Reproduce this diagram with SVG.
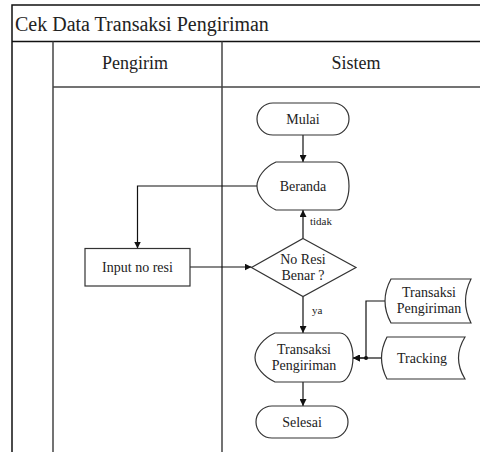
<svg xmlns="http://www.w3.org/2000/svg" width="480" height="452" viewBox="0 0 480 452">
<style>
  .frame{fill:none;stroke:#111;stroke-width:1.5}
  .lane{fill:none;stroke:#444;stroke-width:1.5}
  .node{fill:#fff;stroke:#333;stroke-width:1.2}
  .edge{fill:none;stroke:#111;stroke-width:1.2}
  .t{font-size:14px;text-anchor:middle}
  .lbl{font-size:11px}
  .hdr{font-size:18px;text-anchor:middle}
</style>
<defs>
  <marker id="ah" viewBox="0 0 10 10" refX="10" refY="5" markerWidth="7" markerHeight="7" markerUnits="userSpaceOnUse" orient="auto">
    <path d="M0,0 L10,5 L0,10 Z" fill="#111"/>
  </marker>
</defs>
<rect width="480" height="452" fill="#fff"/>
<g font-family="'Liberation Serif', 'DejaVu Serif', serif" fill="#222">
<g id="frame">
  <rect class="frame" x="12" y="5" width="480" height="460"/>
  <line class="frame" x1="12" y1="41.5" x2="480" y2="41.5"/>
  <line class="lane" x1="53" y1="87" x2="480" y2="87"/>
  <line class="lane" x1="53" y1="41.5" x2="53" y2="452"/>
  <line class="lane" x1="222" y1="41.5" x2="222" y2="452"/>
  <text x="15" y="31" font-size="20">Cek Data Transaksi Pengiriman</text>
  <text class="hdr" x="135" y="69">Pengirim</text>
  <text class="hdr" x="356" y="69">Sistem</text>
</g>
<g id="connectors">
  <line class="edge" x1="303" y1="135" x2="303" y2="162" marker-end="url(#ah)"/>
  <line class="edge" x1="303" y1="238.5" x2="303" y2="210" marker-end="url(#ah)"/>
  <polyline class="edge" points="257,186 137.5,186 137.5,248.5" marker-end="url(#ah)"/>
  <line class="edge" x1="190" y1="267" x2="251.5" y2="267" marker-end="url(#ah)"/>
  <line class="edge" x1="303" y1="296.5" x2="303" y2="333" marker-end="url(#ah)"/>
  <line class="edge" x1="303" y1="382" x2="303" y2="406" marker-end="url(#ah)"/>
  <polyline class="edge" points="385,301 366,301 366,358 353,358" marker-end="url(#ah)"/>
  <line class="edge" x1="382" y1="358" x2="353" y2="358" marker-end="url(#ah)"/>
  <circle cx="366" cy="358" r="2" fill="#111"/>
  <text class="lbl" x="310" y="225">tidak</text>
  <text class="lbl" x="312" y="314">ya</text>
</g>
<g id="mulai">
  <rect class="node" x="257" y="103" width="92" height="32" rx="16"/>
  <text class="t" x="303" y="124">Mulai</text>
</g>
<g id="beranda">
  <path class="node" d="M276,162 L337,162 A12,24 0 0 1 337,210 L276,210 C265,205 257,195 257,186 C257,177 265,167 276,162 Z"/>
  <text class="t" x="303" y="191">Beranda</text>
</g>
<g id="input">
  <rect class="node" x="85" y="248.5" width="105" height="37.5"/>
  <text class="t" x="137.5" y="272">Input no resi</text>
</g>
<g id="cek">
  <path class="node" d="M303,238.5 L356,267.5 L303,296.5 L251.5,267.5 Z"/>
  <text class="t" x="303" y="264">No Resi</text>
  <text class="t" x="303" y="280">Benar ?</text>
</g>
<g id="transaksi">
  <path class="node" d="M275,333 L340,333 A13,24.5 0 0 1 340,382 L275,382 C264,377 255,367 255,357.5 C255,348 264,338 275,333 Z"/>
  <text class="t" x="304" y="354">Transaksi</text>
  <text class="t" x="304" y="370">Pengiriman</text>
</g>
<g id="selesai">
  <rect class="node" x="256" y="406" width="92" height="32" rx="16"/>
  <text class="t" x="302" y="427">Selesai</text>
</g>
<g id="db-transaksi">
  <path class="node" d="M391,279 L471,279 Q460,301 471,323 L391,323 Q379,301 391,279 Z"/>
  <text class="t" x="429" y="297">Transaksi</text>
  <text class="t" x="429" y="313">Pengiriman</text>
</g>
<g id="db-tracking">
  <path class="node" d="M387,337 L465,337 Q452,358 465,379 L387,379 Q376,358 387,337 Z"/>
  <text class="t" x="422" y="363">Tracking</text>
</g>
</g>
</svg>
